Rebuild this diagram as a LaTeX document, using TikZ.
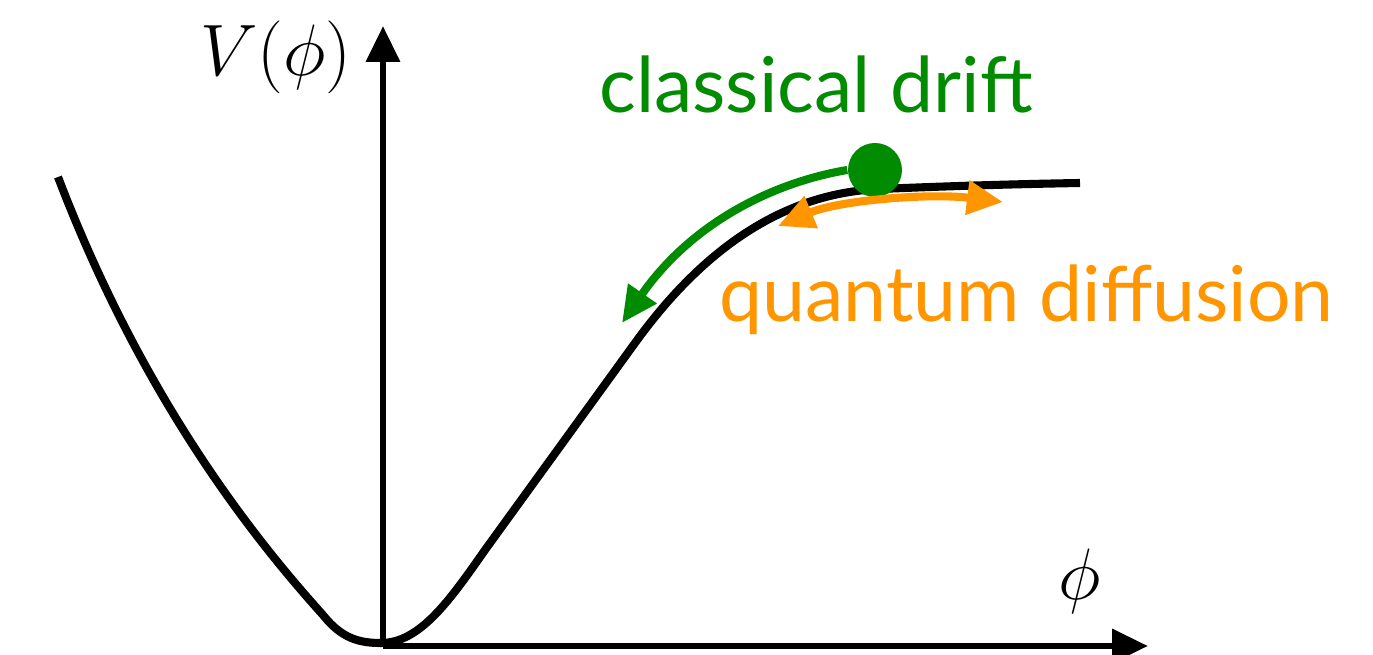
\documentclass[tikz,border=0pt]{standalone}
\usepackage{amsmath}
\usepackage{fontspec}
\usepackage{tikz}
\usetikzlibrary{arrows.meta, calc}
\newfontfamily\labelfont{Lato}

\begin{document}
\begin{tikzpicture}[>={Triangle[length=0.36cm,width=0.33cm]}]
\useasboundingbox (0,0) rectangle (13.73,6.55);
\definecolor{c1}{RGB}{0,139,0}
\definecolor{c2}{RGB}{255,150,0}
\coordinate (O) at (3.83,0.09);
\coordinate (Y1) at (3.83,6.29);
\coordinate (X1) at (11.48,0.09);
\coordinate (A1) at (0.58,4.78);
\coordinate (A2) at (3.23,0.40);
\coordinate (A3) at (3.81,0.12);
\coordinate (A4) at (4.85,1.05);
\coordinate (A5) at (6.35,3.12);
\coordinate (A6) at (8.80,4.66);
\coordinate (A7) at (10.80,4.72);
\coordinate (G1) at (6.22,3.32);
\coordinate (Q1) at (7.78,4.29);
\coordinate (Q2) at (10.03,4.53);

% axes
\draw[line width=1.9pt, ->] (O) -- (Y1);
\draw[line width=1.9pt, ->] (O) -- (X1);
\node (100) at (2.76,5.98) {\fontsize{21}{25}\selectfont $V(\phi)$};
\node (101) at (10.80,0.74) {\fontsize{21}{25}\selectfont $\phi$};

% potential
\draw[line width=2.3pt] (A1) .. controls (1.45,2.5) and (2.6,1.1) .. (A2)
  .. controls (3.42,0.16) and (3.6,0.12) .. (A3)
  .. controls (4.2,0.12) and (4.5,0.55) .. (A4) -- (A5)
  .. controls (7.0,4.02) and (7.8,4.62) .. (A6)
  .. controls (9.5,4.69) and (10.2,4.71) .. (A7);

% field
\node (D0) at (8.75,4.85) [circle, fill=c1, inner sep=0pt, minimum size=0.54cm] {};
\draw[c1, line width=2.3pt, ->] (D0.west) .. controls (7.7,4.72) and (6.9,4.3) .. (G1);
\draw[c2, line width=2.3pt, <->] (Q1) .. controls (8.4,4.55) and (9.3,4.62) .. (Q2);
\node (102) at (5.87,5.42) [anchor=base west, text=c1] {\labelfont\fontsize{21.9}{26}\selectfont classical drift};
\node (103) at (7.07,3.33) [anchor=base west, text=c2] {\labelfont\fontsize{21.9}{26}\selectfont quantum diffusion};
\end{tikzpicture}
\end{document}
